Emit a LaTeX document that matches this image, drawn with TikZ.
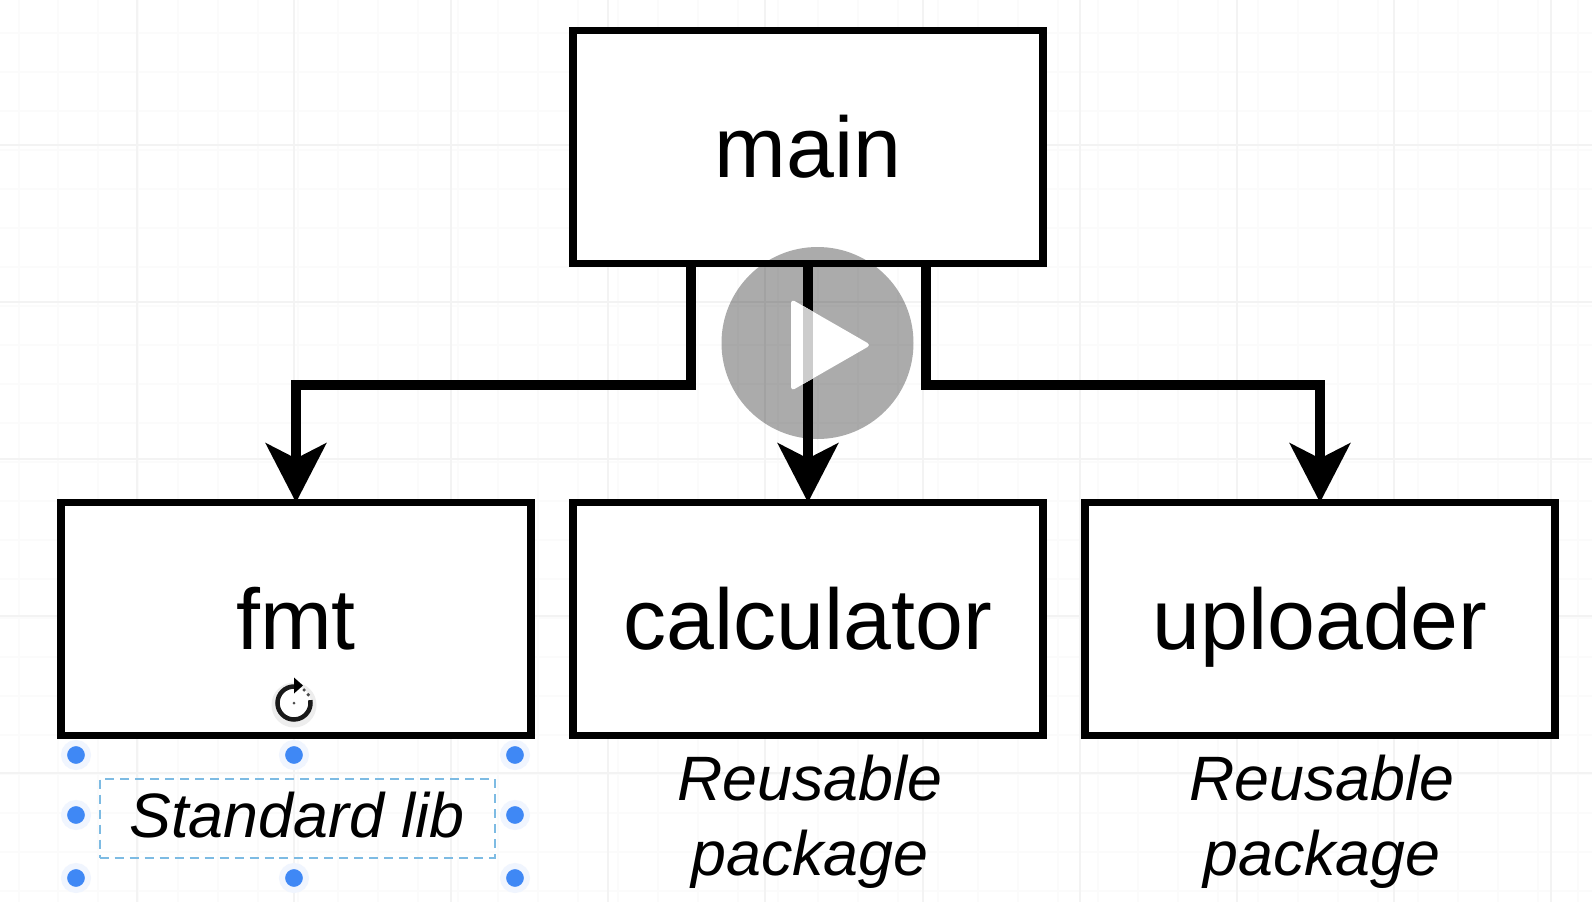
\documentclass[tikz,border=0pt]{standalone}
\usepackage{fontspec}
\setmainfont{Liberation Sans}
\usetikzlibrary{arrows.meta}
\definecolor{gridgray}{HTML}{F3F3F3}
\definecolor{minorgray}{HTML}{FBFBFB}
\definecolor{handleblue}{HTML}{3F88F5}
\definecolor{selectblue}{HTML}{7DBBE3}
\tikzset{
	pkgbox/.style={draw=black,fill=white,line width=0.75mm,minimum width=4.70cm,minimum height=2.33cm,outer sep=0pt,text height=0.61cm,text depth=0pt,font=\fontsize{24.5}{28}\selectfont},
	note/.style={font=\fontsize{17.85}{21.3}\selectfont\itshape,align=center,inner sep=0pt},
	link/.style={line width=1.0mm,-{Stealth[length=5.9mm,width=6mm,inset=1.5mm]}},
	handle/.style={circle,fill=handleblue,draw=handleblue!8,line width=0.6mm,minimum size=2.4mm,inner sep=0pt}
}
\begin{document}
\begin{tikzpicture}[line cap=butt,line join=miter,x=1.0cm,y=1.0cm]
		\useasboundingbox (0,0) rectangle (15.92,9.02);
		\fill [white] (0,0) rectangle (15.92,9.02);
		% grid of the canvas
		\foreach \gx in {0.19,0.58,0.98,...,15.92}
			\draw [minorgray,line width=0.15mm] (\gx,0) -- (\gx,9.02);
		\foreach \gy in {0.11,0.50,0.89,...,9.02}
			\draw [minorgray,line width=0.15mm] (0,\gy) -- (15.92,\gy);
		\foreach \gx in {1.37,2.94,4.51,6.08,7.65,9.23,10.80,12.37,13.94,15.51}
			\draw [gridgray,line width=0.2mm] (\gx,0) -- (\gx,9.02);
		\foreach \gy in {1.29,2.86,4.43,6.00,7.57}
			\draw [gridgray,line width=0.2mm] (0,\gy) -- (15.92,\gy);
		% boxes
		\node [pkgbox] (main) at (8.08,7.55) {main};
		\node [pkgbox] (fmt) at (2.96,2.83) {fmt};
		\node [pkgbox] (calc) at (8.08,2.83) {calculator};
		\node [pkgbox] (upl) at (13.20,2.83) {uploader};
		% connectors
		\draw [link] ([xshift=-1.17cm]main.south) -- ++(0,-1.21) -| (fmt.north);
		\draw [link] (main.south) -- (calc.north);
		\draw [link] ([xshift=1.18cm]main.south) -- ++(0,-1.21) -| (upl.north);
		% labels
		\node [note] (lib) at (2.97,0.87) {Standard lib};
		\node [note] (calcnote) at (8.10,0.80) {Reusable\\package};
		\node [note] (uplnote) at (13.22,0.80) {Reusable\\package};
		% selection round the label
		\node [draw=selectblue,dash pattern=on 0.9mm off 0.6mm,line width=0.2mm,minimum width=3.95cm,minimum height=0.79cm,inner sep=0pt] (sel) at (2.97,0.84) {};
		\foreach \hx/\hname/\hy/\hrow in {0.76/a/1.47/u,2.94/b/1.47/u,5.15/c/1.47/u,0.76/a/0.87/m,5.15/c/0.87/m,0.76/a/0.24/d,2.94/b/0.24/d,5.15/c/0.24/d}
			\node [handle] (h\hname\hrow) at (\hx,\hy) {};
		% rotate icon
		\coordinate (rot) at (2.94,1.99);
		\fill [black!7] ([yshift=-0.2mm]rot) circle (0.225);
		\fill [white] (rot) circle (0.17);
		\draw [black!90,line width=0.45mm] (rot) ++(90:0.165) arc (90:370:0.165);
		\fill [black!70] (rot) ++(30:0.165) circle (0.018);
		\fill [black!70] (rot) ++(52:0.165) circle (0.018);
		\fill [black] ([yshift=2.55mm]rot) -- ++(0.09,-0.08) -- ++(-0.09,-0.08) -- cycle;
		\fill [black!70] (rot) circle (0.015);
		% play button of the video
		\fill [black,opacity=0.33] (8.175,5.59) circle (0.96);
		\fill [white,rounded corners=0.4mm] (7.91,6.03) -- (8.71,5.57) -- (7.91,5.11) -- cycle;
		\begin{scope}
			\clip (7.91,6.03) -- (8.71,5.57) -- (7.91,5.11) -- cycle;
			\draw [black!20,line width=1.0mm] (main.south) -- (calc.north);
		\end{scope}
\end{tikzpicture}
\end{document}
